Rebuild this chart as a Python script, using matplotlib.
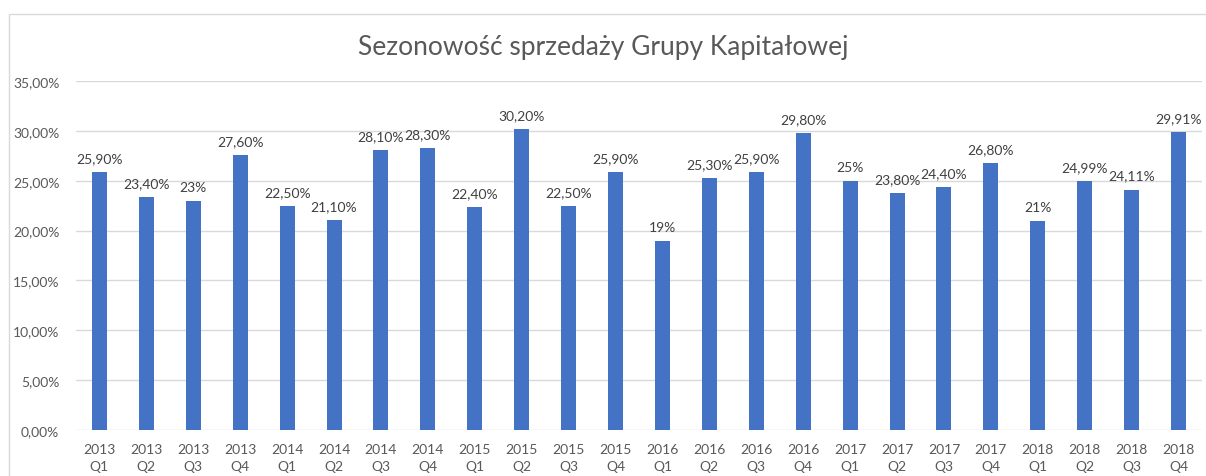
import matplotlib.pyplot as plt
import matplotlib.patches as patches
from matplotlib.ticker import FuncFormatter
import numpy as np

years = ['2013'] * 4 + ['2014'] * 4 + ['2015'] * 4 + ['2016'] * 4 + ['2017'] * 4 + ['2018'] * 4
quarters = ['Q1', 'Q2', 'Q3', 'Q4'] * 6
values = [25.90, 23.40, 23.00, 27.60, 22.50, 21.10, 28.10, 28.30,
          22.40, 30.20, 22.50, 25.90, 19.00, 25.30, 25.90, 29.80,
          25.00, 23.80, 24.40, 26.80, 21.00, 24.99, 24.11, 29.91]


def fmt_label(v):
    if abs(v - round(v)) < 1e-9:
        return f"{int(round(v))}%"
    return f"{v:.2f}%".replace('.', ',')


plt.rcParams['font.family'] = ['Lato', 'DejaVu Sans']

fig = plt.figure(figsize=(12.06, 4.77), dpi=100)
ax = fig.add_axes([0.063, 0.0964, 0.9337, 0.7316])

# chart border
fig.patches.append(patches.Rectangle((9 / 1206, -0.1), 1.2, 1 - 15 / 477 + 0.1,
                                     transform=fig.transFigure, fill=False,
                                     edgecolor='#d9d9d9', linewidth=1))

index = np.arange(len(values))
ax.bar(index, values, width=0.32, color='#4472C4', zorder=3)

for i, v in enumerate(values):
    ax.text(i, v + 0.8, fmt_label(v), ha='center', va='bottom',
            fontsize=10, color='#404040')

ax.set_xlim(-0.5, len(values) - 0.5)
ax.set_ylim(0, 35)
ax.set_yticks(np.arange(0, 36, 5))
ax.yaxis.set_major_formatter(FuncFormatter(lambda y, p: f"{y:.2f}%".replace('.', ',')))
ax.set_xticks(index)
ax.set_xticklabels([f"{y}\n{q}" for y, q in zip(years, quarters)], linespacing=1.55)
ax.tick_params(axis='both', length=0, labelsize=10, labelcolor='#595959')
ax.tick_params(axis='x', pad=9)
ax.tick_params(axis='y', pad=12)
ax.grid(axis='y', color='#d9d9d9', linewidth=1, zorder=0)
for s in ax.spines.values():
    s.set_visible(False)

fig.text(0.5, 1 - 47 / 477, 'Sezonowość sprzedaży Grupy Kapitałowej',
         ha='center', va='center', fontsize=19, color='#595959')

fig.savefig('out.png', dpi=100)
